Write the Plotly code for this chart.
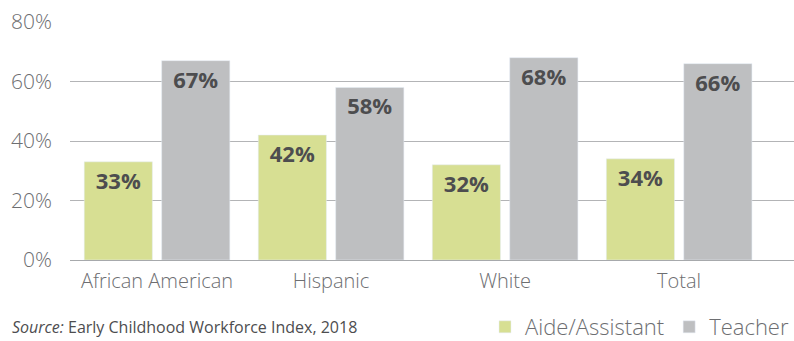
import plotly.graph_objects as go

categories = ["African American", "Hispanic", "White", "Total"]
aide = [33, 42, 32, 34]
teacher = [67, 58, 68, 66]
y_ticks = [0, 20, 40, 60, 80]
y_tick_labels = ["0%", "20%", "40%", "60%", "80%"]

FONT = "Open Sans"
green = "#d7df93"
gray = "#bebfc1"
label_color = "#4d4d4f"
tick_color = "#6d6e71"

fig = go.Figure()
fig.add_bar(name="Aide/Assistant", x=categories, y=aide, marker_color=green,
            text=[f"{v}%" for v in aide], textposition="inside", insidetextanchor="end",
            textfont=dict(family=FONT, size=22, color=label_color, weight="bold"),
            textangle=0)
fig.add_bar(name="Teacher", x=categories, y=teacher, marker_color=gray,
            text=[f"{v}%" for v in teacher], textposition="inside", insidetextanchor="end",
            textfont=dict(family=FONT, size=22, color=label_color, weight="bold"),
            textangle=0)

fig.update_layout(
    width=794, height=341,
    margin=dict(l=70, r=0, t=22, b=81, autoexpand=False),
    paper_bgcolor="white", plot_bgcolor="white",
    barmode="group", bargap=0.11, bargroupgap=0.12,
    font=dict(family=FONT, color=tick_color),
    legend=dict(orientation="h", x=1.0, xanchor="right", xref="container",
                y=14 / 341, yanchor="middle", yref="container",
                font=dict(family=FONT, size=22, color=tick_color, weight=300),
                traceorder="normal"),
    showlegend=True,
)
fig.update_xaxes(range=[-0.5, 3.66], showgrid=False, showline=True, linecolor="#a7a9ac",
                 linewidth=1, ticks="", automargin=False,
                 tickfont=dict(family=FONT, size=20, color=tick_color, weight=300),
                 ticklabelstandoff=3)
fig.update_yaxes(range=[0, 80], tickvals=y_ticks, ticktext=y_tick_labels, showgrid=True,
                 gridcolor="#b3b4b6", gridwidth=1, zeroline=False, showline=False,
                 automargin=False,
                 tickfont=dict(family=FONT, size=21, color=tick_color, weight=300), ticklabelstandoff=17)

fig.add_annotation(xref="paper", yref="paper", x=-60/724, y=-67/238, xanchor="left", yanchor="middle",
                   showarrow=False,
                   text="<i>Source:</i> Early Childhood Workforce Index, 2018",
                   font=dict(family=FONT, size=16, color="#4d4d4f"))

fig.write_html("out.html")
